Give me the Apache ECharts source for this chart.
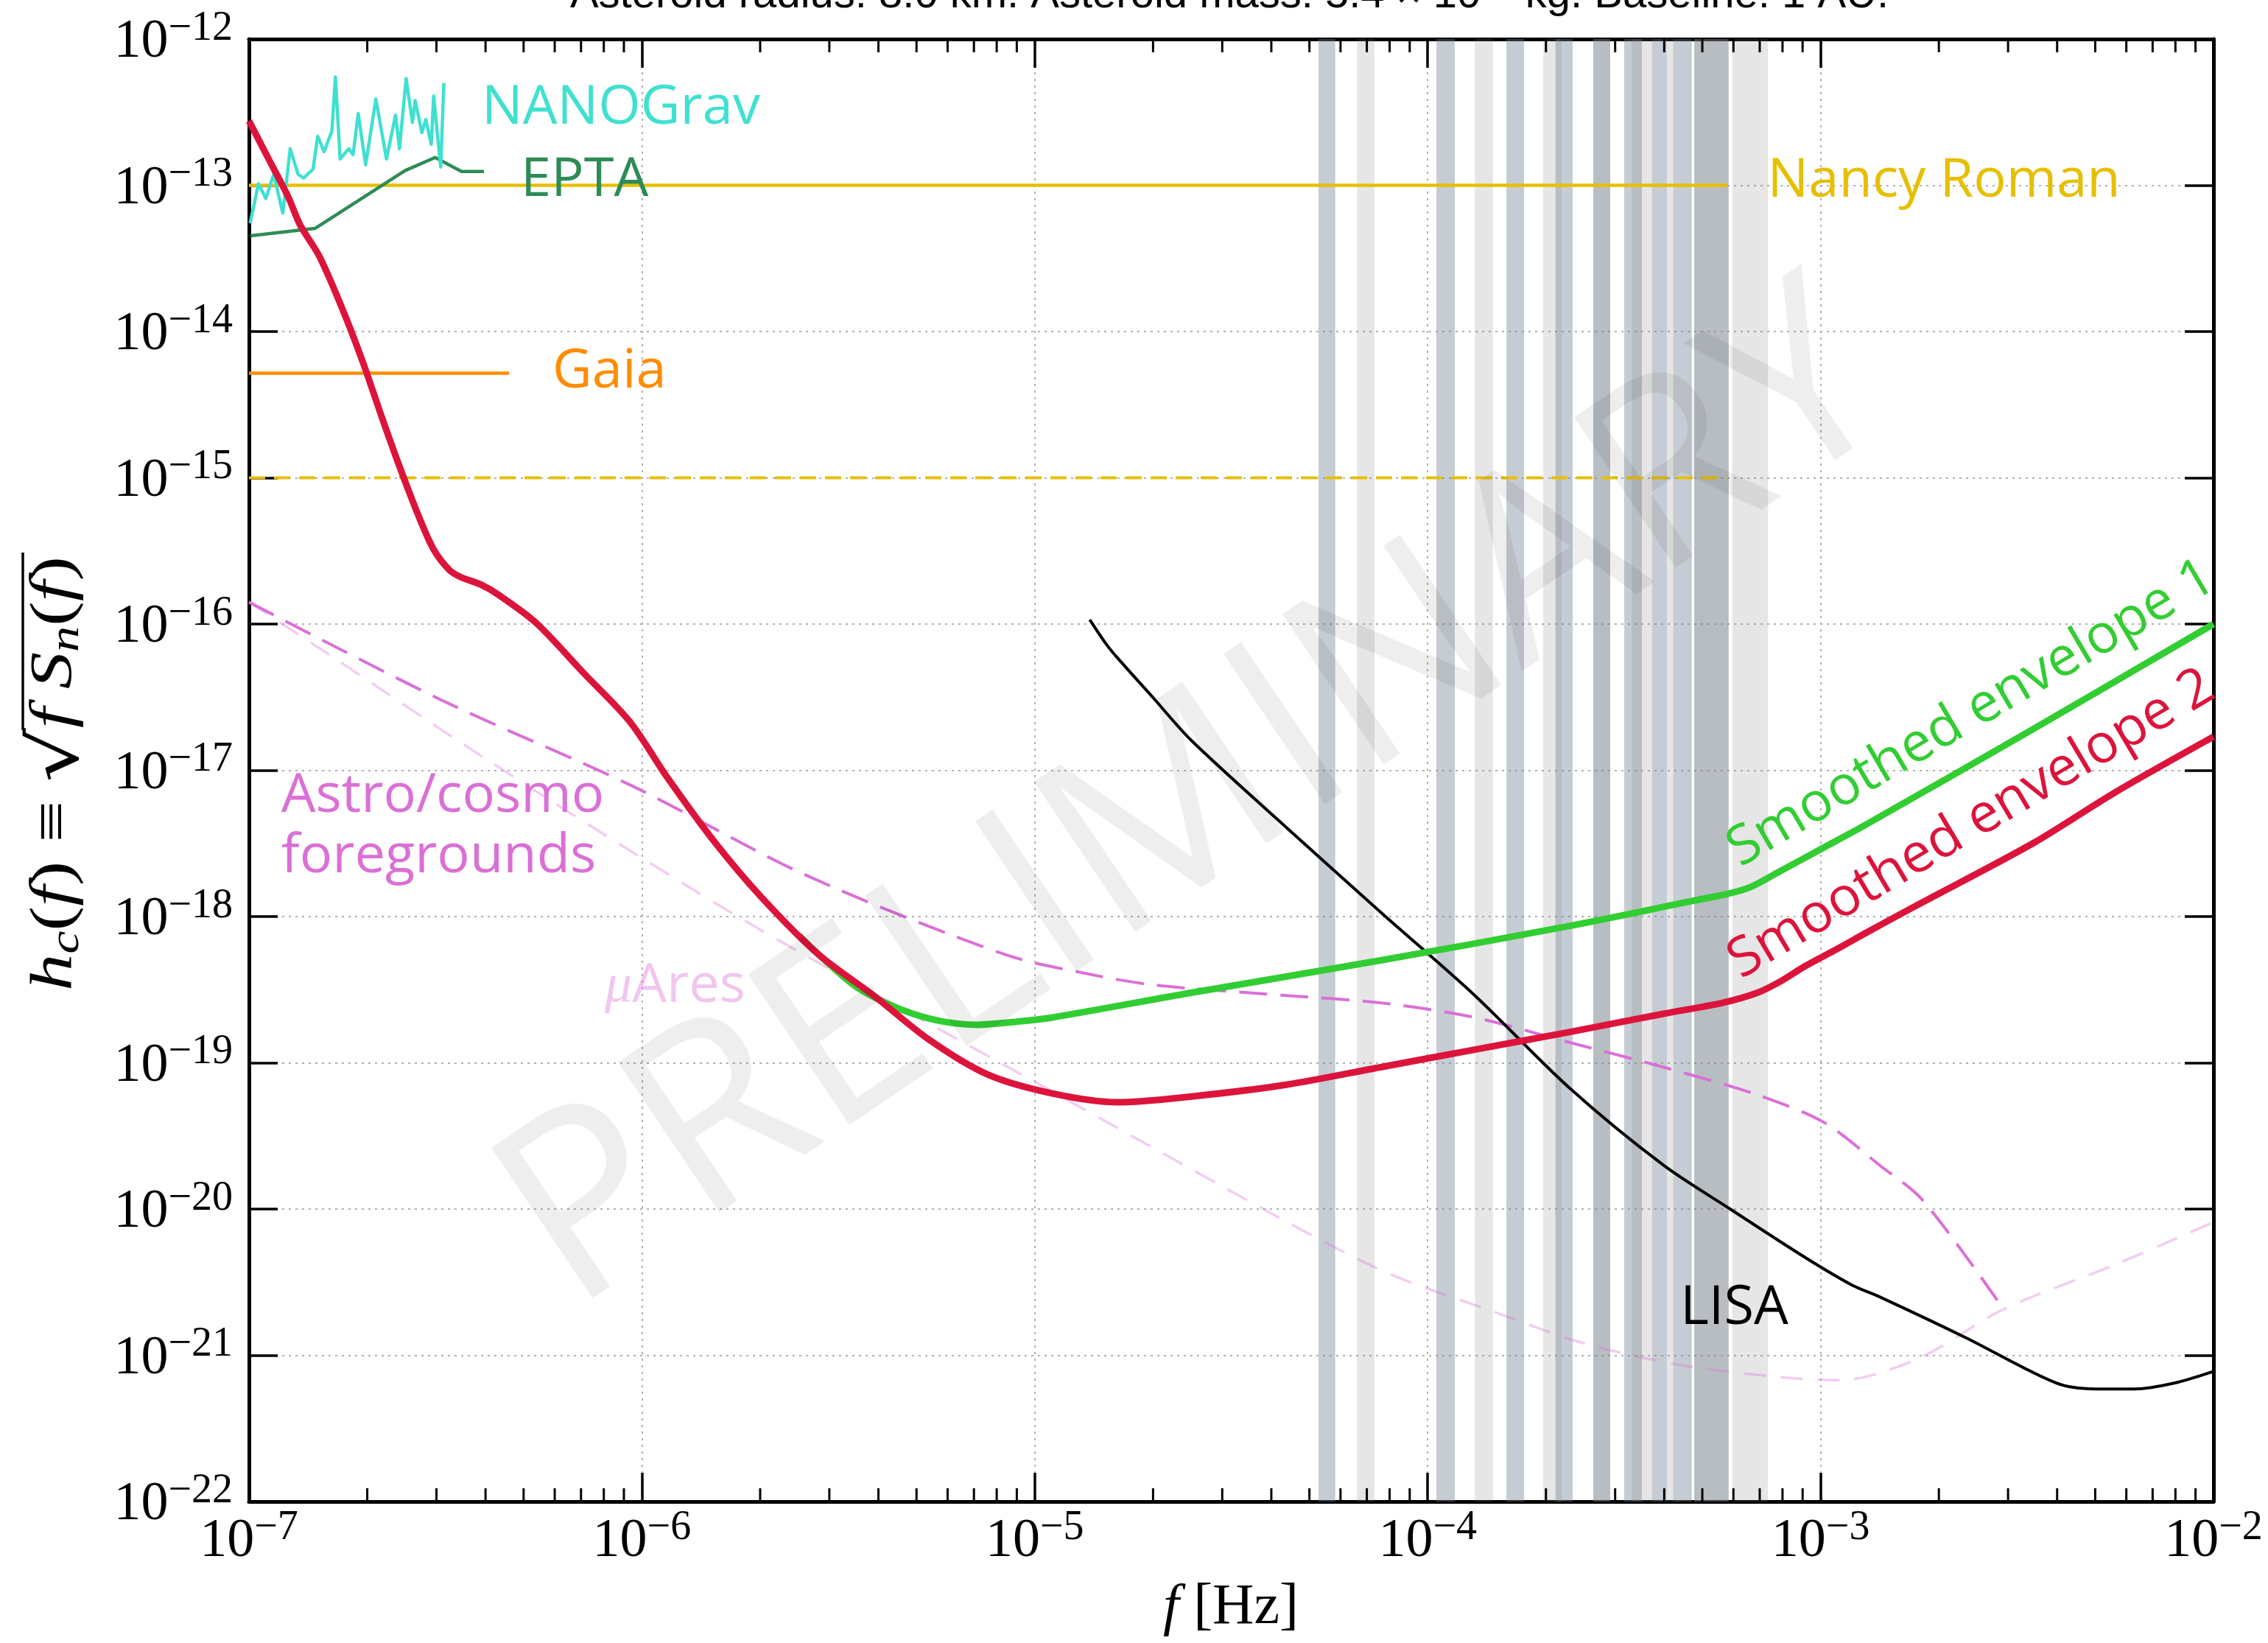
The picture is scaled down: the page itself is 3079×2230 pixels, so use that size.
<!DOCTYPE html>
<html><head><meta charset="utf-8">
<script src="https://cdn.jsdelivr.net/npm/echarts@6/dist/echarts.min.js"></script>
<style>html,body{margin:0;padding:0;background:#fff}#c{width:3079px;height:2230px}</style>
</head><body><div id="c"></div>
<script>
// ---- data: pairs of [log10 f (Hz), log10 h_c] ----
const redEnvelope = [[-7.00,-12.56],[-6.95,-12.82],[-6.90,-13.08],[-6.87,-13.27],[-6.82,-13.49],[-6.76,-13.86],[-6.71,-14.21],[-6.66,-14.60],[-6.62,-14.90],[-6.57,-15.25],[-6.53,-15.49],[-6.49,-15.63],[-6.46,-15.68],[-6.41,-15.73],[-6.365,-15.80],[-6.27,-15.99],[-6.15,-16.33],[-6.03,-16.67],[-5.935,-17.05],[-5.815,-17.49],[-5.695,-17.87],[-5.55,-18.26],[-5.41,-18.54],[-5.27,-18.84],[-5.12,-19.08],[-4.955,-19.21],[-4.79,-19.27],[-4.60,-19.23],[-4.36,-19.15],[-4.12,-19.03],[-3.88,-18.91],[-3.64,-18.79],[-3.40,-18.665],[-3.25,-18.59],[-3.16,-18.52],[-3.10,-18.44],[-3.04,-18.34],[-2.95,-18.21],[-2.89,-18.12],[-2.76,-17.93],[-2.46,-17.50],[-2.25,-17.15],[-2.00,-16.77]];
const greenEnvelope = [[-5.60,-18.13],[-5.55,-18.26],[-5.46,-18.47],[-5.38,-18.59],[-5.31,-18.665],[-5.23,-18.72],[-5.146,-18.74],[-5.05,-18.72],[-4.955,-18.69],[-4.60,-18.52],[-4.12,-18.30],[-3.64,-18.065],[-3.32,-17.89],[-3.245,-17.85],[-3.18,-17.80],[-3.11,-17.70],[-3.00,-17.54],[-2.89,-17.38],[-2.46,-16.72],[-2.00,-16.00]];
const nanograv = [[-6.997,-13.26],[-6.976,-12.99],[-6.957,-13.09],[-6.937,-12.925],[-6.914,-13.19],[-6.895,-12.75],[-6.875,-12.925],[-6.861,-12.95],[-6.837,-12.89],[-6.825,-12.665],[-6.809,-12.77],[-6.789,-12.63],[-6.78,-12.26],[-6.768,-12.82],[-6.746,-12.75],[-6.735,-12.79],[-6.722,-12.51],[-6.703,-12.86],[-6.677,-12.41],[-6.65,-12.82],[-6.627,-12.52],[-6.617,-12.75],[-6.60,-12.27],[-6.584,-12.57],[-6.577,-12.42],[-6.56,-12.64],[-6.55,-12.55],[-6.536,-12.72],[-6.53,-12.39],[-6.512,-12.875],[-6.504,-12.30]];
const epta = [[-6.996,-13.345],[-6.832,-13.295],[-6.603,-12.90],[-6.526,-12.81],[-6.459,-12.905],[-6.402,-12.905]];
const astroForegrounds = [[-7.00,-15.85],[-6.51,-16.52],[-6.03,-17.10],[-5.58,-17.72],[-5.075,-18.26],[-4.85,-18.40],[-4.69,-18.47],[-4.36,-18.54],[-4.12,-18.59],[-3.88,-18.69],[-3.64,-18.86],[-3.40,-19.03],[-3.16,-19.22],[-2.99,-19.41],[-2.85,-19.70],[-2.74,-19.94],[-2.534,-20.685]];
const muAres = [[-7.00,-15.85],[-6.79,-16.22],[-6.41,-16.90],[-6.00,-17.60],[-5.66,-18.15],[-5.00,-19.13],[-4.35,-20.10],[-4.10,-20.44],[-3.85,-20.685],[-3.60,-20.92],[-3.35,-21.07],[-3.10,-21.15],[-2.95,-21.17],[-2.75,-21.02],[-2.534,-20.685],[-2.25,-20.38],[-2.00,-20.09]];
const lisa = [[-4.86,-15.97],[-4.82,-16.13],[-4.79,-16.23],[-4.70,-16.50],[-4.60,-16.80],[-4.36,-17.39],[-4.12,-17.97],[-3.88,-18.54],[-3.64,-19.17],[-3.40,-19.70],[-3.23,-20.00],[-3.04,-20.33],[-2.92,-20.52],[-2.85,-20.60],[-2.63,-20.88],[-2.40,-21.19],[-2.30,-21.23],[-2.20,-21.23],[-2.10,-21.19],[-2.00,-21.11]];
const nancyRoman = [[-7.0,-13.0],[-3.2355,-13.0]];
const nancyRomanDashed = [[-7.0,-15.0],[-3.2355,-15.0]];
const gaia = [[-7.0,-14.285],[-6.338,-14.285]];
// frequency bands [log10 f start, log10 f end, kind] (kind 1 = slate, 0 = light grey)
const bands = [[-4.2778,-4.2353,1],[-4.1798,-4.1354,0],[-3.9778,-3.9310,1],[-3.8798,-3.8341,0],[-3.7997,-3.7547,1],[-3.7060,-3.6591,0],[-3.6747,-3.6310,1],[-3.5785,-3.5354,1],[-3.5785,-3.5354,0],[-3.4998,-3.4548,1],[-3.4810,-3.4291,0],[-3.4291,-3.3911,1],[-3.3911,-3.3742,0],[-3.3747,-3.3278,1],[-3.3216,-3.2341,1],[-3.3216,-3.2341,0],[-3.2249,-3.1339,0]];
const xTickExp = [-7,-6,-5,-4,-3,-2];
const yTickExp = [-22,-21,-20,-19,-18,-17,-16,-15,-14,-13,-12];
const minorMultipliers = [2,3,4,5,6,7,8,9];

// x: log axis in scaled units (f*1e7); y: value axis holding log10 h_c (decade ticks).
const XS = 7;
const X = lf => Math.pow(10, lf + XS);
const P = a => a.map(p => [X(p[0]), p[1]]);
const XMIN = X(xTickExp[0]), XMAX = X(xTickExp[xTickExp.length-1]);
const YMIN = yTickExp[0], YMAX = yTickExp[yTickExp.length-1];
const minorTicks = [];
xTickExp.slice(0,-1).forEach(e => minorMultipliers.forEach(m => minorTicks.push([m*X(e), -17])));

const annotations = [
  {text:'NANOGrav', at:[-6.4076,-12.4736], color:'#40E0D0'},
  {text:'EPTA', at:[-6.3082,-12.967], color:'#2E8B57'},
  {text:'Nancy Roman', at:[-3.135,-12.97], color:'#E6BF00'},
  {text:'Gaia', at:[-6.2276,-14.275], color:'#FF8C00'},
  {text:'Astro/cosmo', at:[-6.918,-17.179], color:'#DA70D6'},
  {text:'foregrounds', at:[-6.918,-17.592], color:'#DA70D6'},
  {text:'{m|μ}{a|Ares}', at:[-6.0945,-18.479], color:'rgba(218,112,214,0.4)', rich:true},
  {text:'LISA', at:[-3.357,-20.68], color:'#000000'},
  {text:'Smoothed envelope 1', at:[-2.6159,-16.614], color:'#32CD32', rotate:30.4, align:'center'},
  {text:'Smoothed envelope 2', at:[-2.6159,-17.37], color:'#DC143C', rotate:30.7, align:'center'}
];

const LABEL_FONT = '74px "Open Sans"';
const tickRich = {
  m:{fontFamily:'Liberation Serif', fontSize:74, color:'#000', lineHeight:84, verticalAlign:'bottom'},
  e:{fontFamily:'Liberation Serif', fontSize:56, color:'#000', lineHeight:24, verticalAlign:'top'}
};
const fmtX = v => '{m|10}{e|−' + (-(Math.round(Math.log10(v)) - XS)) + '}';
const fmtY = v => '{m|10}{e|−' + (-Math.round(v)) + '}';

function lineSeries(data, color, width, type, z, smooth){
  return {type:'line', data:P(data), showSymbol:false, symbol:'none', silent:true, animation:false, z:z||3,
    xAxisIndex:0, yAxisIndex:0, smooth:smooth||false,
    lineStyle:{color:color, width:width, type:type||'solid', cap:'butt', join:'round'}};
}

// y-axis title built from measured tokens
const cv = document.createElement('canvas').getContext('2d');
function tw(font, s){ cv.font = font; return cv.measureText(s).width; }
const fI = 'italic 80px "Liberation Serif"', fR = '80px "Liberation Serif"', fS = 'italic 56px "Liberation Serif"';
const ytoks = [['h',fI,0],['c',fS,16],['(',fR,0],['f',fI,0],[')',fR,0],[' ≡ ',fR,0],['√','92px "DejaVu Serif"',6],
  ['f',fI,0,1],[' ',fR,0,1],['S',fI,0,1],['n',fS,16,1],['(',fR,0,1],['f',fI,0,1],[')',fR,0,1]];
let cx = 0; const yChildren = []; let oStart = null;
ytoks.forEach(t => { const w = tw(t[1], t[0]); if (t[3] && oStart === null) oStart = cx;
  yChildren.push({type:'text', x:cx, y:t[2], style:{text:t[0], font:t[1], fill:'#000', align:'left', verticalAlign:'middle'}}); cx += w; });
const L = cx;
yChildren.forEach(c => c.x -= L/2);
yChildren.push({type:'line', shape:{x1:oStart - L/2 - 2, y1:-44, x2:L/2 + 4, y2:-44}, style:{stroke:'#000', lineWidth:3.5}});

const chart = echarts.init(document.getElementById('c'), null, {renderer:'canvas', width:3079, height:2230});
const axisCommon = {axisLine:{show:true, onZero:false, lineStyle:{color:'#000', width:5}},
  axisTick:{show:true, inside:true, length:39, lineStyle:{color:'#000', width:3.5}}, minorTick:{show:false}};
const gridLine = {show:true, lineStyle:{color:'#b0b0b0', width:2, type:[3,6]}};

chart.setOption({
  animation:false,
  backgroundColor:'#ffffff',
  grid:{left:338, right:74, top:53, bottom:192, containLabel:false},
  xAxis:[
    Object.assign({}, axisCommon, {type:'log', logBase:10, min:XMIN, max:XMAX, splitNumber:5, position:'bottom',
      axisLabel:{show:true, margin:8, formatter:fmtX, rich:tickRich, showMinLabel:true, showMaxLabel:true}, splitLine:gridLine}),
    Object.assign({}, axisCommon, {type:'log', logBase:10, min:XMIN, max:XMAX, splitNumber:5, position:'top', axisLabel:{show:false}, splitLine:{show:false}})
  ],
  yAxis:[
    Object.assign({}, axisCommon, {type:'value', min:YMIN, max:YMAX, interval:1, position:'left',
      axisLabel:{show:true, margin:22, formatter:fmtY, rich:tickRich, showMinLabel:true, showMaxLabel:true}, splitLine:gridLine}),
    Object.assign({}, axisCommon, {type:'value', min:YMIN, max:YMAX, interval:1, position:'right', axisLabel:{show:false}, splitLine:{show:false}})
  ],
  series:[
    {type:'custom', z:1, silent:true, clip:true, xAxisIndex:0, yAxisIndex:0,
      data:bands.map(b => [X(b[0]), X(b[1]), YMAX, YMIN, b[2]]),
      encode:{x:[0,1], y:[2,3]},
      renderItem:(params, api) => {
        const p0 = api.coord([api.value(0), api.value(2)]);
        const p1 = api.coord([api.value(1), api.value(3)]);
        return {type:'rect', shape:{x:p0[0], y:p0[1], width:p1[0]-p0[0], height:p1[1]-p0[1]},
          style:{fill: api.value(4) === 1 ? 'rgba(112,128,144,0.4)' : 'rgba(128,128,128,0.2)'}};
      }},
    {type:'custom', z:6, silent:true, xAxisIndex:0, yAxisIndex:0, data:minorTicks, encode:{x:0, y:1},
      renderItem:(params, api) => {
        const pb = api.coord([api.value(0), YMIN]);
        const pt = api.coord([api.value(0), YMAX]);
        const st = {stroke:'#000', lineWidth:3};
        return {type:'group', children:[
          {type:'line', shape:{x1:pb[0], y1:pb[1], x2:pb[0], y2:pb[1]-18}, style:st},
          {type:'line', shape:{x1:pt[0], y1:pt[1], x2:pt[0], y2:pt[1]+18}, style:st}]};
      }},
    lineSeries(muAres, 'rgba(218,112,214,0.35)', 3.5, [30,20], 3, 0.3),
    lineSeries(astroForegrounds, '#DA70D6', 4, [38,18], 3, 0.3),
    lineSeries(lisa, '#000000', 4, 'solid', 3, 0.3),
    lineSeries(nancyRoman, '#E6BF00', 4.5),
    lineSeries(nancyRomanDashed, '#E6BF00', 4, [22,12]),
    lineSeries(gaia, '#FF8C00', 4.5),
    lineSeries(epta, '#2E8B57', 4.5),
    lineSeries(nanograv, '#40E0D0', 4.5),
    lineSeries(greenEnvelope, '#32CD32', 9, 'solid', 4, 0.3),
    lineSeries(redEnvelope, '#DC143C', 9, 'solid', 5, 0.3),
    {type:'custom', z:10, silent:true, xAxisIndex:0, yAxisIndex:0,
      data:annotations.map((a,i) => [X(a.at[0]), a.at[1], i]), encode:{x:0, y:1},
      renderItem:(params, api) => {
        const a = annotations[params.dataIndex];
        const p = api.coord([api.value(0), api.value(1)]);
        const style = {text:a.text, fill:a.color, font:LABEL_FONT, align:a.align || 'left', verticalAlign:'middle'};
        if (a.rich) style.rich = {m:{fontFamily:'Liberation Serif', fontStyle:'italic', fontSize:74, fill:a.color},
                                  a:{fontFamily:'Open Sans', fontSize:74, fill:a.color}};
        return {type:'text', x:p[0], y:p[1], rotation:(a.rotate||0)*Math.PI/180, style:style};
      }}
  ],
  graphic:[
    {type:'text', x:1669, y:-6, z:20, style:{text:'{t|Asteroid radius: 8.0 km. Asteroid mass: 5.4 × 10}{s|15}{t| kg. Baseline: 1 AU.}',
      rich:{t:{fontFamily:'Liberation Sans', fontSize:58, fill:'#000'}, s:{fontFamily:'Liberation Sans', fontSize:40, fill:'#000', verticalAlign:'top', lineHeight:30}},
      align:'center', verticalAlign:'middle'}},
    {type:'text', x:1625, y:1090, z:50, rotation:34*Math.PI/180, silent:true,
      style:{text:'PRELIMINARY', font:'345px "Open Sans"', fill:'rgba(0,0,0,0.065)', align:'center', verticalAlign:'middle'}},
    {type:'group', x:75, y:1050, rotation:Math.PI/2, scaleX:590/L, z:20, children:yChildren},
    {type:'text', x:1671, y:2183, z:20, style:{text:'{i|f} [Hz]',
      rich:{i:{fontFamily:'Liberation Serif', fontStyle:'italic', fontSize:78, fill:'#000'}},
      font:'78px "Liberation Serif"', fill:'#000', align:'center', verticalAlign:'middle'}}
  ]
});
</script></body></html>
